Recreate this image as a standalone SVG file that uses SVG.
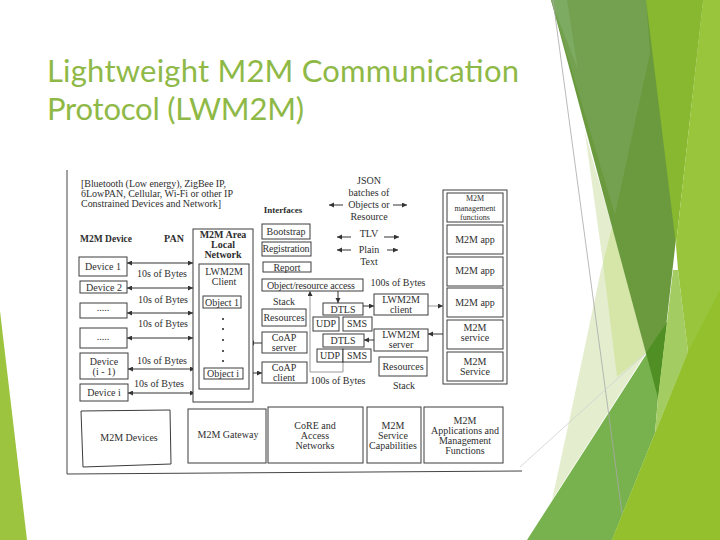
<svg xmlns="http://www.w3.org/2000/svg" width="720" height="540" viewBox="0 0 720 540">
<style>
.b{fill:#fff;stroke:#3c3c3c;stroke-width:1}
text{font-family:"Liberation Serif","Times New Roman",serif;font-size:10px;fill:#2e2e2e;text-anchor:middle}
.h{font-weight:bold}
.s{font-size:8px}
.l{text-anchor:start}
.t{font-family:Lato,"Noto Sans",sans-serif;font-size:31px;fill:#8fb947;text-anchor:start}
.c{fill:none;stroke:#333;stroke-width:1}
.g{fill:none;stroke:#999;stroke-width:1}
.a{marker-end:url(#ah)}
.d{marker-start:url(#as);marker-end:url(#ah)}
</style>
<defs>
<marker id="ah" markerWidth="6" markerHeight="6" refX="5" refY="2.5" orient="auto" markerUnits="userSpaceOnUse"><path d="M0 0L5 2.5L0 5z" fill="#333"/></marker>
<marker id="as" markerWidth="6" markerHeight="6" refX="0" refY="2.5" orient="auto" markerUnits="userSpaceOnUse"><path d="M5 0L0 2.5L5 5z" fill="#333"/></marker>
</defs>
<rect width="720" height="540" fill="#fff"/>
<g id="backdrop">
<polygon points="0,311 27,540 0,540" fill="#9dc43f"/>
<polygon points="585,133 612,227 646,353 552,500 570,417 601,270 603,263" fill="#e4eecf"/>
<polygon points="612,227 603,263 617,377 646,353 624,270" fill="#d5e6a8"/>
<polygon points="551,0 703,0 658,398" fill="#6b9a3e"/>
<polygon points="551,0 646,0 650,53 615,215" fill="#73a14f"/>
<polygon points="551,0 567,0 578,70" fill="#7dab62"/>
<polygon points="646,0 703,0 676,245" fill="#88b82f"/>
<polygon points="527,540 667,322 658,398 655,433 612,540" fill="#78b24e"/>
<polygon points="646,353 667,322 658,398" fill="#4f8f23"/>
<polygon points="673,270 678,270 688,352 655,433 658,398 667,322" fill="#a3cc62"/>
<polygon points="703,0 720,0 720,540 612,540 655,433 688,352 678,270 676,245" fill="#98c53c"/>
<polygon points="612,540 688,352 720,290 720,540" fill="#93c02c"/>
<line x1="553" y1="0" x2="622" y2="513" stroke="#a8a8a8" stroke-width="0.8"/>
<line x1="520" y1="467" x2="646" y2="353" stroke="#cfcfcf" stroke-width="0.8"/>
</g>
<g id="title">
<text class="t" x="47" y="82" textLength="472" lengthAdjust="spacing">Lightweight M2M Communication</text>
<text class="t" x="47" y="120" textLength="257" lengthAdjust="spacing">Protocol (LWM2M)</text>
</g>
<path id="frame" d="M67 170V474L522 471" fill="none" stroke="#444" stroke-width="1"/>
<g id="connectors">
<line class="c d" x1="127" y1="263" x2="193" y2="263"/>
<line class="c d" x1="127" y1="288" x2="193" y2="288"/>
<line class="c d" x1="127" y1="313" x2="193" y2="313"/>
<line class="c d" x1="127" y1="338" x2="193" y2="338"/>
<line class="c d" x1="128" y1="369" x2="195" y2="369"/>
<line class="c d" x1="128" y1="393" x2="195" y2="393"/>
<line class="c a" x1="262" y1="343" x2="249" y2="343"/>
<line class="c a" x1="243" y1="373" x2="262" y2="373"/>
<line class="c a" x1="343" y1="205" x2="329" y2="205"/>
<line class="c a" x1="393" y1="205" x2="407" y2="205"/>
<line class="c a" x1="351" y1="237" x2="337" y2="237"/>
<line class="c a" x1="384" y1="237" x2="399" y2="237"/>
<line class="c a" x1="351" y1="250" x2="337" y2="250"/>
<line class="c a" x1="387" y1="250" x2="398" y2="250"/>
<line class="c a" x1="338" y1="291" x2="338" y2="303"/>
<line class="c a" x1="363" y1="306" x2="374" y2="306"/>
<line class="g a" x1="428" y1="306" x2="443" y2="306"/>
<line class="c a" x1="443" y1="334" x2="428" y2="334"/>
<line class="c a" x1="374" y1="340" x2="364" y2="340"/>
<polyline class="g a" points="343,362 343,372 310,372 310,291"/>
</g>
<g id="devices-header"><text class="h" x="106" y="242" style="font-size:9.5px">M2M Device</text><text class="h" x="174" y="242">PAN</text></g>
<text class="l" x="81" y="187" textLength="145">[Bluetooth (Low energy), ZigBee IP,</text>
<text class="l" x="81" y="197" textLength="152">6LowPAN, Cellular, Wi-Fi or other IP</text>
<text class="l" x="81" y="207" textLength="140">Constrained Devices and Network]</text>
<g id="device-1"><rect class="b" x="79" y="257" width="48" height="19"/><text x="103" y="270">Device 1</text></g>
<g id="device-2"><rect class="b" x="80" y="281" width="47" height="12"/><text x="104" y="291">Device 2</text></g>
<g id="device-dots-1"><rect class="b" x="80" y="303" width="47" height="15"/><text x="103" y="311">.....</text></g>
<g id="device-dots-2"><rect class="b" x="80" y="328" width="47" height="20"/><text x="103" y="340">.....</text></g>
<g id="device-i-1"><rect class="b" x="80" y="353" width="48" height="26"/><text x="104" y="365">Device</text><text x="104" y="375">(i - 1)</text></g>
<g id="device-i"><rect class="b" x="80" y="384" width="48" height="17"/><text x="104" y="396">Device i</text></g>
<g id="bytes-labels">
<text x="162" y="277">10s of Bytes</text><text x="163" y="303">10s of Bytes</text><text x="163" y="327">10s of Bytes</text><text x="162" y="364">10s of Bytes</text><text x="159" y="387">10s of Bytes</text>
</g>
<g id="area-network">
<rect class="b" x="193" y="229" width="60" height="173"/>
<text class="h" x="223" y="238">M2M Area</text><text class="h" x="223" y="248">Local</text><text class="h" x="223" y="258">Network</text>
</g>
<g id="lwm2m-client-left">
<rect class="b" x="199" y="264" width="50" height="125"/>
<text x="224" y="275">LWM2M</text><text x="224" y="285">Client</text>
<g fill="#222"><circle cx="223" cy="319" r="1"/><circle cx="223" cy="329" r="1"/><circle cx="223" cy="340" r="1"/><circle cx="223" cy="351" r="1"/><circle cx="223" cy="361" r="1"/></g>
</g>
<g id="object-1"><rect class="b" x="203" y="296" width="38" height="12"/><text x="222" y="305.500">Object 1</text></g>
<g id="object-i"><rect class="b" x="204" y="368" width="39" height="11"/><text x="223" y="376.500">Object i</text></g>
<text class="h" x="283" y="213" style="font-size:9px">Interfaces</text>
<g id="bootstrap"><rect class="b" x="262" y="224" width="48" height="15"/><text x="286" y="235">Bootstrap</text></g>
<g id="registration"><rect class="b" x="262" y="242" width="49" height="14"/><text x="286" y="252" textLength="47">Registration</text></g>
<g id="report"><rect class="b" x="263" y="262" width="48" height="10"/><text x="287" y="270.500">Report</text></g>
<g id="object-access"><rect class="b" x="262" y="279" width="101" height="12"/><text x="311" y="288.500" textLength="88">Object/resource access</text></g>
<text x="284" y="305">Stack</text>
<g id="resources-left"><rect class="b" x="262" y="309" width="44" height="17"/><text x="284" y="321">Resources</text></g>
<g id="coap-server"><rect class="b" x="262" y="332" width="45" height="21"/><text x="284" y="341">CoAP</text><text x="284" y="351">server</text></g>
<g id="coap-client"><rect class="b" x="262" y="362" width="45" height="21"/><text x="284" y="371">CoAP</text><text x="284" y="381">client</text></g>
<g id="dtls-1"><rect class="b" x="323" y="303" width="40" height="12"/><text x="343" y="312.500">DTLS</text></g>
<g id="udp-1"><rect class="b" x="313" y="317" width="26" height="14"/><text x="326" y="327">UDP</text></g>
<g id="sms-1"><rect class="b" x="343" y="317" width="29" height="14"/><text x="357" y="327">SMS</text></g>
<g id="dtls-2"><rect class="b" x="323" y="334" width="41" height="13"/><text x="343" y="344">DTLS</text></g>
<g id="udp-2"><rect class="b" x="317" y="349" width="26" height="13"/><text x="330" y="359">UDP</text></g>
<g id="sms-2"><rect class="b" x="343" y="349" width="28" height="13"/><text x="357" y="359">SMS</text></g>
<g id="lwm2m-client"><rect class="b" x="374" y="294" width="54" height="21"/><text x="401" y="303">LWM2M</text><text x="401" y="313">client</text></g>
<g id="lwm2m-server"><rect class="b" x="374" y="329" width="54" height="22"/><text x="401" y="338">LWM2M</text><text x="401" y="348">server</text></g>
<g id="resources-right"><rect class="b" x="379" y="357" width="48" height="19"/><text x="403" y="370">Resources</text></g>
<text x="338" y="384">100s of Bytes</text>
<text x="404" y="389">Stack</text>
<text x="398" y="286">100s of Bytes</text>
<g id="payload-labels">
<text x="369" y="184">JSON</text><text x="369" y="196">batches of</text><text x="369" y="208">Objects or</text><text x="369" y="220">Resource</text>
<text x="369" y="237">TLV</text><text x="369" y="253">Plain</text><text x="369" y="265">Text</text>
</g>
<g id="m2m-stack"><rect class="b" x="443" y="190" width="64" height="194"/></g>
<g id="mgmt"><rect class="b" x="447" y="193" width="56" height="29"/><text class="s" x="475" y="201">M2M</text><text class="s" x="475" y="210.500">management</text><text class="s" x="475" y="220">functions</text></g>
<g id="app-1"><rect class="b" x="447" y="225" width="56" height="29"/><text x="475" y="243">M2M app</text></g>
<g id="app-2"><rect class="b" x="447" y="257" width="56" height="29"/><text x="475" y="274">M2M app</text></g>
<g id="app-3"><rect class="b" x="447" y="288" width="56" height="29"/><text x="475" y="306">M2M app</text></g>
<g id="service-1"><rect class="b" x="447" y="320" width="56" height="29"/><text x="475" y="331">M2M</text><text x="475" y="341">service</text></g>
<g id="service-2"><rect class="b" x="447" y="352" width="56" height="29"/><text x="475" y="365">M2M</text><text x="475" y="375">Service</text></g>
<g id="band-devices"><polygon class="b" points="81,411 170,410 171,464 83,467"/><text x="129" y="441">M2M Devices</text></g>
<g id="band-gateway"><rect class="b" x="188" y="409" width="78" height="54"/><text x="228" y="438">M2M Gateway</text></g>
<g id="band-core"><rect class="b" x="268" y="407" width="95" height="56"/><text x="315" y="429">CoRE and</text><text x="315" y="439">Access</text><text x="315" y="449">Networks</text></g>
<g id="band-service"><rect class="b" x="367" y="407" width="54" height="56"/><text x="393" y="429">M2M</text><text x="393" y="439">Service</text><text x="393" y="449">Capabilities</text></g>
<g id="band-apps"><rect class="b" x="424" y="407" width="79" height="56"/><text x="465" y="424">M2M</text><text x="465" y="434">Applications and</text><text x="465" y="444">Management</text><text x="465" y="454">Functions</text></g>
</svg>
